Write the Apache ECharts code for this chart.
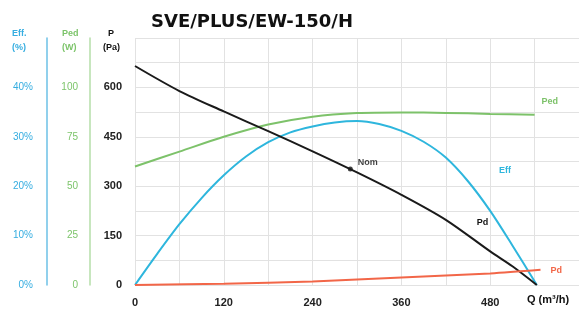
<!DOCTYPE html>
<html>
<head>
<meta charset="utf-8">
<script src="https://cdn.jsdelivr.net/npm/echarts@6/dist/echarts.min.js"></script>
<style>
  html, body { margin: 0; padding: 0; background: #fff; }
  #fan_curve { width: 579px; height: 314px; }
</style>
</head>
<body>
<div id="fan_curve"></div>
<script>
// Chart data
var chartTitle = 'SVE/PLUS/EW-150/H';

// static pressure Pd (Pa)
var pdFlow = [0, 60, 120, 180, 240, 300, 360, 420, 480, 510, 543];
var pdValues = [665, 589, 527, 467, 406, 342, 274, 198, 102, 57, 0];

// input power Ped (W)
var pedFlow = [0, 60, 120, 180, 240, 300, 360, 420, 480, 540];
var pedValues = [60, 67.5, 75, 81.2, 85.2, 87.0, 87.3, 87.1, 86.6, 86.1];

// efficiency Eff (%)
var effFlow = [0, 30, 60, 90, 120, 150, 180, 210, 240, 270, 300, 330, 360, 390, 420, 450, 480, 510, 543];
var effValues = [0, 6.3, 12.3, 17.6, 22.2, 26.0, 28.9, 30.9, 32.1, 32.9, 33.2, 32.6, 31.2, 29.0, 25.8, 21.0, 15.0, 8.0, 0];

// dynamic pressure Pd (Pa)
var dynFlow = [0, 120, 240, 360, 480, 548];
var dynValues = [0, 4, 11, 23, 35, 46];

// nominal point
var nomPoint = [291, 352];

var xTicks = [0, 120, 240, 360, 480];
var pTicks = [0, 150, 300, 450, 600];
var pedTicks = [0, 25, 50, 75, 100];
var effTicks = [0, 10, 20, 30, 40];

var fontBase = '"Liberation Sans", Arial, sans-serif';

function pairs(xs, ys, labelAt, label) {
    return xs.map(function (x, i) {
        var item = { value: [x, ys[i]] };
        if (i === labelAt) {
            item.label = label;
        }
        return item;
    });
}

function tickFormatter(list, suffix) {
    return function (v) {
        for (var i = 0; i < list.length; i++) {
            if (Math.abs(list[i] - v) < 1e-6) return v + (suffix || '');
        }
        return '';
    };
}

function curve(name, axis, color, data) {
    return {
        name: name,
        type: 'line',
        yAxisIndex: axis,
        smooth: 0.3,
        symbol: 'circle',
        symbolSize: 0,
        showSymbol: true,
        showAllSymbol: true,
        itemStyle: { color: color },
        lineStyle: { color: color, width: 2 },
        label: { show: false },
        data: data
    };
}

var fan_curve_element = document.getElementById('fan_curve');
var fan_curve = echarts.init(fan_curve_element);

fan_curve.setOption({
    animation: false,
    textStyle: { fontFamily: fontBase },
    title: {
        text: chartTitle,
        left: 146,
        top: 8,
        textStyle: { fontSize: 18, fontWeight: 'bold', color: '#111', fontFamily: '"DejaVu Sans", sans-serif' }
    },
    grid: { left: 135, right: 0, top: 38, bottom: 29, containLabel: false },
    xAxis: {
        type: 'value',
        min: 0,
        max: 600,
        interval: 60,
        axisLine: { show: false },
        axisTick: { show: false },
        splitLine: { lineStyle: { color: '#e2e2e2', width: 1 } },
        axisLabel: {
            margin: 12,
            fontSize: 11,
            fontWeight: 'bold',
            color: '#222',
            showMaxLabel: false,
            formatter: tickFormatter(xTicks)
        }
    },
    yAxis: [{
        type: 'value',
        min: 0,
        max: 750,
        interval: 75,
        position: 'left',
        axisLine: { show: false },
        axisTick: { show: false },
        splitLine: { lineStyle: { color: '#e2e2e2', width: 1 } },
        axisLabel: {
            margin: 13,
            fontSize: 11,
            fontWeight: 'bold',
            color: '#222',
            formatter: tickFormatter(pTicks)
        }
    }, {
        type: 'value',
        min: 0,
        max: 125,
        interval: 12.5,
        position: 'left',
        offset: 45,
        axisLine: { show: true, lineStyle: { color: '#b5dea8', width: 1.5 } },
        axisTick: { show: false },
        splitLine: { show: false },
        axisLabel: {
            margin: 12,
            fontSize: 10,
            color: '#7cc46a',
            formatter: tickFormatter(pedTicks)
        }
    }, {
        type: 'value',
        min: 0,
        max: 50,
        interval: 5,
        position: 'left',
        offset: 88,
        axisLine: { show: true, lineStyle: { color: '#6cc0e6', width: 1.5 } },
        axisTick: { show: false },
        splitLine: { show: false },
        axisLabel: {
            margin: 14,
            fontSize: 10,
            color: '#35ade0',
            formatter: tickFormatter(effTicks, '%')
        }
    }],
    graphic: [
        { type: 'text', left: 12, top: 27, style: { text: 'Eff.\n(%)', fill: '#35ade0', font: 'bold 9px ' + fontBase, align: 'center', lineHeight: 14 } },
        { type: 'text', left: 62, top: 27, style: { text: 'Ped\n(W)', fill: '#7cc46a', font: 'bold 9px ' + fontBase, align: 'center', lineHeight: 14 } },
        { type: 'text', left: 103, top: 27, style: { text: '  P\n(Pa)', fill: '#111', font: 'bold 9px ' + fontBase, lineHeight: 14 } },
        { type: 'text', left: 527, top: 294, style: { text: 'Q (m³/h)', fill: '#111', font: 'bold 11px ' + fontBase } }
    ],
    series: [
        curve('Ped', 1, '#7dc26a', pairs(pedFlow, pedValues, pedFlow.length - 1, {
            show: true, formatter: 'Ped', position: 'right', offset: [2, -13],
            color: '#7dc26a', fontSize: 9, fontWeight: 'bold'
        })),
        curve('Eff', 2, '#2eb6dd', pairs(effFlow, effValues, 15, {
            show: true, formatter: 'Eff', position: 'right', offset: [26, -11],
            color: '#2eb6dd', fontSize: 9, fontWeight: 'bold'
        })),
        curve('Pd', 0, '#1a1a1a', pairs(pdFlow, pdValues, 7, {
            show: true, formatter: 'Pd', position: 'right', offset: [26, 3],
            color: '#111', fontSize: 9, fontWeight: 'bold'
        })),
        curve('Pd dyn', 0, '#f26648', pairs(dynFlow, dynValues, dynFlow.length - 1, {
            show: true, formatter: 'Pd', position: 'right', offset: [5, 1],
            color: '#f26648', fontSize: 9, fontWeight: 'bold'
        })),
        {
            name: 'Nom',
            type: 'scatter',
            yAxisIndex: 0,
            symbolSize: 5,
            itemStyle: { color: '#111' },
            label: {
                show: true, formatter: 'Nom', position: 'right', offset: [0, -7],
                color: '#111', fontSize: 9, fontWeight: 'bold'
            },
            data: [nomPoint]
        }
    ]
});

// Resize function
var triggerChartResize = function () {
    fan_curve_element && fan_curve.resize();
};
window.addEventListener('resize', triggerChartResize);
</script>
</body>
</html>
